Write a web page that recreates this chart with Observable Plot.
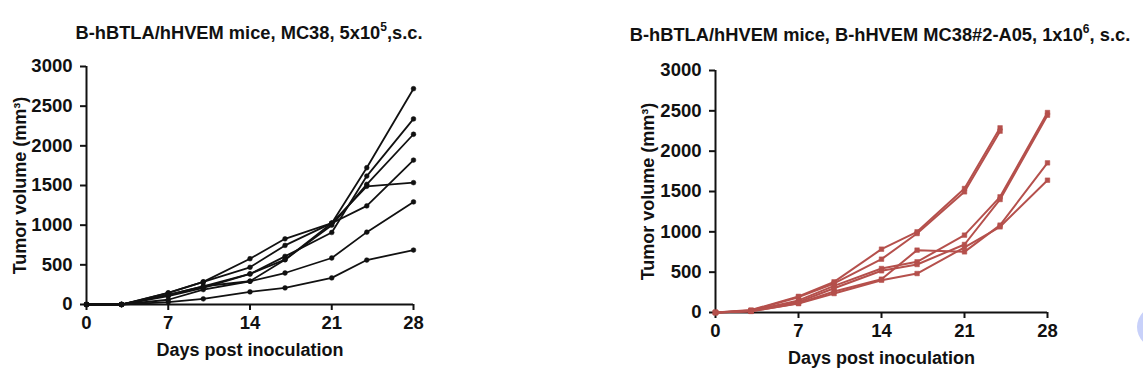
<!DOCTYPE html>
<html>
<head>
<meta charset="utf-8">
<script src="https://cdn.jsdelivr.net/npm/d3@7"></script>
<script src="https://cdn.jsdelivr.net/npm/@observablehq/plot@0.6"></script>
<style>
  html, body { margin: 0; padding: 0; background: #fff; }
  #wrap { position: relative; width: 1143px; height: 376px; overflow: hidden; font-family: "Liberation Sans", Arial, sans-serif; }
  .panel { position: absolute; top: 0; }
  .title { position: absolute; font-weight: bold; font-size: 18.3px; color: #111; white-space: nowrap; transform: translateX(-50%); line-height: 1; }
  .title sup { font-size: 12px; position: relative; top: -1px; }
  #blob { position: absolute; left: 1137px; top: 306px; width: 42px; height: 42px; border-radius: 50%; background: #c8d1fa; }
</style>
</head>
<body>
<div id="wrap">
  <div class="title" style="left:249px; top:22px;">B-hBTLA/hHVEM mice, MC38, 5x10<sup>5</sup>,s.c.</div>
  <div class="title" style="left:880px; top:24px;">B-hBTLA/hHVEM mice, B-hHVEM MC38#2-A05, 1x10<sup>6</sup>, s.c.</div>
  <div id="left" class="panel" style="left:0px;"></div>
  <div id="right" class="panel" style="left:560px;"></div>
  <div id="blob"></div>
</div>
<script>
// Measurement days
const days = [0, 3, 7, 10, 14, 17, 21, 24, 28];
const xTicks = [0, 7, 14, 21, 28];
const yTicks = [0, 500, 1000, 1500, 2000, 2500, 3000];

// Left panel: MC38 5x10^5, individual mice (mm^3)
const leftMouse1 = [0, 0, 146, 285, 469, 745, 1025, 1724, 2720];
const leftMouse2 = [0, 0, 120, 230, 385, 607, 908, 1619, 2339];
const leftMouse3 = [0, 0, 105, 210, 385, 565, 1000, 1515, 2146];
const leftMouse4 = [0, 0, 146, 285, 577, 828, 1025, 1490, 1536];
const leftMouse5 = [0, 0, 120, 230, 293, 565, 1025, 1243, 1820];
const leftMouse6 = [0, 0, 60, 188, 293, 397, 586, 912, 1293];
const leftMouse7 = [0, 0, 30, 71, 159, 209, 335, 560, 686];

// Right panel: B-hHVEM MC38#2-A05 1x10^6 (null = no measurement)
const rightMouse1 = [0, 30, 200, 380, 785, 1000, 1537, 2289, null];
const rightMouse2 = [0, 25, 190, 360, 661, 979, 1496, 2248, null];
const rightMouse3 = [0, 20, 150, 330, 545, 628, 959, 1434, 2479];
const rightMouse4 = [0, 20, 130, 300, 517, 595, 843, 1401, 2446];
const rightMouse5 = [0, 15, 115, 260, 413, 773, 752, 1083, 1855];
const rightMouse6 = [0, 15, 110, 235, 400, 483, 806, 1062, 1640];

function tidy(series) {
  const rows = [];
  series.forEach((vals, i) => {
    vals.forEach((v, j) => { if (v != null) rows.push({mouse: i, day: days[j], vol: v}); });
  });
  return rows;
}

const leftData = tidy([leftMouse1, leftMouse2, leftMouse3, leftMouse4, leftMouse5, leftMouse6, leftMouse7]);
const rightData = tidy([rightMouse1, rightMouse2, rightMouse3, rightMouse4, rightMouse5, rightMouse6]);

const tickFont = "'Liberation Sans Narrow', 'Arial Narrow', 'Liberation Sans', Arial, sans-serif";
const fmt = d3.format("d");

function panel(data, opts) {
  return Plot.plot({
    width: opts.width,
    height: 376,
    marginLeft: opts.ml,
    marginRight: opts.mr,
    marginTop: opts.mt,
    marginBottom: opts.mb,
    style: {fontFamily: "'Liberation Sans', Arial, sans-serif", color: "#111", background: "transparent", overflow: "visible"},
    x: {domain: [0, 28]},
    y: {domain: [0, 3000]},
    marks: [
      Plot.axisX({ticks: xTicks, tickSize: 6, strokeWidth: 2, tickPadding: 5, fontSize: 18.5, fontWeight: "bold",
        fontFamily: tickFont, tickFormat: fmt, label: null}),
      Plot.axisX({ticks: [], tickSize: 0, fontSize: 18, fontWeight: "bold",
        label: "Days post inoculation", labelAnchor: "center", labelArrow: "none", labelOffset: 51}),
      Plot.axisY({ticks: yTicks, tickSize: 6, strokeWidth: 2, tickPadding: 8, fontSize: 18.5, fontWeight: "bold",
        fontFamily: tickFont, tickFormat: fmt, label: null}),
      Plot.axisY({ticks: [], tickSize: 0, fontSize: 18, fontWeight: "bold",
        label: "Tumor volume (mm³)", labelAnchor: "center", labelArrow: "none", labelOffset: opts.lo}),
      Plot.ruleY([0], {stroke: "#111", strokeWidth: 2}),
      Plot.ruleX([0], {stroke: "#111", strokeWidth: 2}),
      Plot.line(data, {x: "day", y: "vol", z: "mouse", stroke: opts.color, strokeWidth: opts.sw}),
      Plot.dot(data, {x: "day", y: "vol", symbol: opts.symbol, r: opts.r, fill: opts.color, stroke: opts.color, strokeWidth: 0.5})
    ]
  });
}

document.getElementById("left").appendChild(panel(leftData, {
  width: 560, ml: 86, mr: 147, mt: 66, mb: 72, lo: 73, color: "#111", sw: 1.8, symbol: "circle", r: 2.4
}));
document.getElementById("right").appendChild(panel(rightData, {
  width: 583, ml: 155, mr: 96, mt: 70, mb: 64, lo: 74, color: "#b5504c", sw: 2, symbol: "square", r: 2.6
}));
</script>
</body>
</html>
